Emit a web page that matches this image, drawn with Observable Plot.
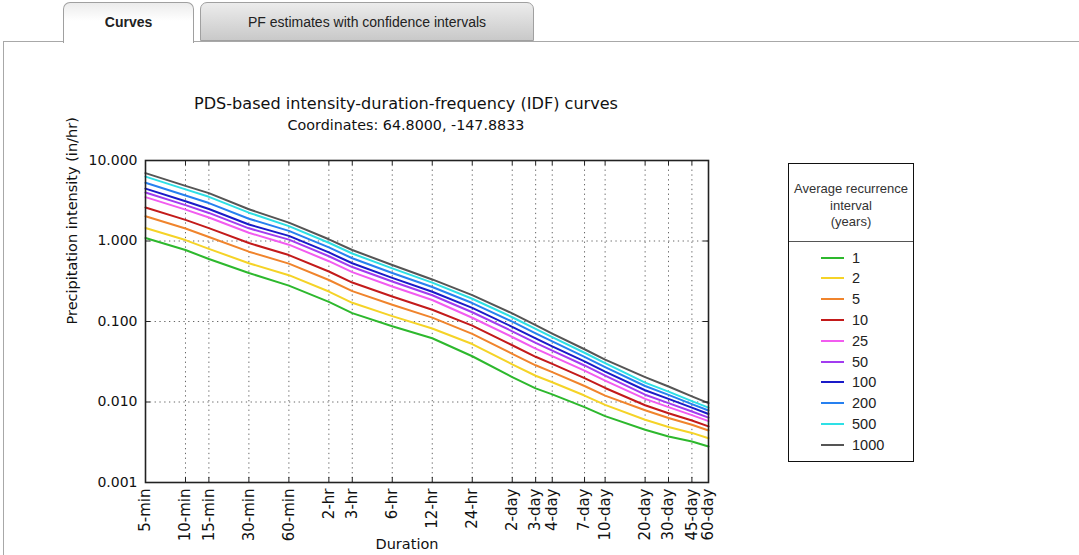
<!DOCTYPE html>
<html><head><meta charset="utf-8">
<script src="https://cdn.jsdelivr.net/npm/d3@7"></script>
<script src="https://cdn.jsdelivr.net/npm/@observablehq/plot@0.6"></script>
<style>
html,body{margin:0;padding:0;background:#fff;}
body{width:1079px;height:555px;overflow:hidden;position:relative;font-family:"Liberation Sans",Arial,sans-serif;}
#panel{position:absolute;left:3px;top:41px;width:1200px;height:600px;border-top:1px solid #a8a8a8;border-left:1px solid #a8a8a8;}
.tab{position:absolute;box-sizing:border-box;border:1px solid #a0a0a0;border-radius:7px 7px 0 0;text-align:center;font-size:14px;color:#222;}
#tab1{left:63px;top:2px;width:131px;height:41px;border-bottom:none;background:linear-gradient(#ececec,#ffffff 45%);font-weight:bold;line-height:39px;z-index:2;}
#tab2{left:200px;top:2px;width:334px;height:39px;background:linear-gradient(#ececec,#c9c9c9);line-height:38px;}
#chart{position:absolute;left:0;top:0;}
.ttl{position:absolute;left:106px;width:600px;text-align:center;font-family:"DejaVu Sans",sans-serif;color:#111;white-space:nowrap;}
#legend{position:absolute;left:788px;top:163px;width:124px;height:297px;border:1px solid #111;font-family:"Liberation Sans",Arial,sans-serif;color:#333;}
#lhead{height:78px;border-bottom:1px solid #555;text-align:center;font-size:13px;line-height:16.7px;box-sizing:border-box;}
.row{position:absolute;left:0;height:20px;width:124px;}
.sw{position:absolute;left:32px;top:9px;width:23px;height:2px;}
.lb{position:absolute;left:63px;top:0;font-size:14.5px;line-height:20px;color:#222;}
</style></head><body>
<div id="panel"></div>
<div class="tab" id="tab1">Curves</div>
<div class="tab" id="tab2">PF estimates with confidence intervals</div>
<div id="chart"></div>
<div class="ttl" id="title" style="top:94px;font-size:16.1px;">PDS-based intensity-duration-frequency (IDF) curves</div>
<div class="ttl" id="subtitle" style="top:117px;font-size:14.3px;">Coordinates: 64.8000, -147.8833</div>
<div id="legend"><div id="lhead"></div></div>
<script>
const durationLabels = ["5-min","10-min","15-min","30-min","60-min","2-hr","3-hr","6-hr","12-hr","24-hr","2-day","3-day","4-day","7-day","10-day","20-day","30-day","45-day","60-day"];
const durationMinutes = [5,10,15,30,60,120,180,360,720,1440,2880,4320,5760,10080,14400,28800,43200,64800,86400];
const yTicks = [0.001,0.01,0.1,1,10];
const intervals = ["1","2","5","10","25","50","100","200","500","1000"];
const colors = ["#2db82d","#f5d327","#f0842c","#c31a1a","#f25cf0","#a23cf0","#1a1ac8","#2680f0","#2ee0e6","#555555"];
const legendTitle = ["Average recurrence","interval","(years)"];

// Precipitation intensity (in/hr) per average recurrence interval, one value per duration
const ari1    = [1.09,0.773,0.597,0.400,0.279,0.175,0.127,0.0874,0.0619,0.0370,0.0204,0.01477,0.01245,0.00864,0.00668,0.00452,0.00373,0.00323,0.00280];
const ari2    = [1.453,1.027,0.799,0.530,0.376,0.2356,0.1708,0.1167,0.0818,0.0525,0.02938,0.0212,0.01762,0.01203,0.00921,0.00602,0.00490,0.00413,0.00354];
const ari5    = [2.03,1.429,1.122,0.737,0.524,0.328,0.2386,0.1612,0.1117,0.0701,0.03967,0.02857,0.02348,0.0158,0.01202,0.00789,0.00634,0.00521,0.00443];
const ari10   = [2.608,1.83,1.447,0.943,0.669,0.4176,0.3046,0.2042,0.1401,0.0887,0.0507,0.03646,0.02969,0.01976,0.01494,0.00911,0.00726,0.00588,0.00498];
const ari25   = [3.51,2.455,1.956,1.264,0.900,0.561,0.4106,0.2726,0.185,0.1114,0.0642,0.04613,0.03722,0.02449,0.01842,0.01092,0.00863,0.00687,0.00579];
const ari50   = [4.00,2.792,2.232,1.437,1.040,0.647,0.4745,0.3135,0.2117,0.1303,0.0756,0.0543,0.04351,0.02843,0.0213,0.01232,0.00967,0.00762,0.00639];
const ari100  = [4.47,3.117,2.498,1.603,1.158,0.721,0.5287,0.3482,0.2342,0.1474,0.0859,0.0616,0.04914,0.03192,0.02384,0.0140,0.01093,0.0085,0.0071];
const ari200  = [5.28,3.68,2.96,1.889,1.337,0.832,0.611,0.4006,0.2679,0.1695,0.0994,0.0712,0.05648,0.03643,0.02713,0.0158,0.01226,0.00942,0.00784];
const ari500  = [6.30,4.38,3.54,2.248,1.531,0.951,0.6995,0.4568,0.304,0.1916,0.1129,0.0808,0.06378,0.04091,0.03037,0.01742,0.01345,0.01024,0.0085];
const ari1000 = [6.97,4.84,3.93,2.48,1.69,1.05,0.773,0.503,0.333,0.213,0.126,0.090,0.0709,0.0452,0.0336,0.0204,0.0156,0.01175,0.0097];

const series = [ari1,ari2,ari5,ari10,ari25,ari50,ari100,ari200,ari500,ari1000];
const table = [];
series.forEach((vals,i)=>vals.forEach((v,j)=>table.push({ari:intervals[i], minutes:durationMinutes[j], value:v})));
const xTickTable = durationMinutes.map((m,i)=>({minutes:m, label:durationLabels[i]}));

const W=1079,H=555, mL=145, mR=371, mT=160, mB=73;
const fh = H-mT-mB, fw = W-mL-mR;
const chart = Plot.plot({
  width:W, height:H, marginLeft:mL, marginRight:mR, marginTop:mT, marginBottom:mB,
  style:{fontFamily:"DejaVu Sans, sans-serif", fontSize:"14px", color:"#111", background:"transparent", overflow:"visible"},
  x:{type:"log", domain:[5,86400], axis:null},
  y:{type:"log", domain:[0.001,10], axis:null},
  color:{domain:intervals, range:colors},
  marks:[
    Plot.gridX(durationMinutes,{stroke:"#666", strokeOpacity:1, strokeDasharray:"1.3,3.5"}),
    Plot.gridY(yTicks,{stroke:"#666", strokeOpacity:1, strokeDasharray:"1.3,3.5"}),
    Plot.line(table,{x:"minutes", y:"value", z:"ari", stroke:"ari", strokeWidth:2}),
    Plot.tickX(durationMinutes,{x:d=>d, insetTop:fh-5, stroke:"#222"}),
    Plot.tickX(durationMinutes,{x:d=>d, insetBottom:fh-5, stroke:"#222"}),
    Plot.tickY(yTicks,{y:d=>d, insetRight:fw-5, stroke:"#222"}),
    Plot.tickY(yTicks,{y:d=>d, insetLeft:fw-5, stroke:"#222"}),
    Plot.text(xTickTable,{x:"minutes", text:"label", frameAnchor:"bottom", dy:6, rotate:-90, textAnchor:"end", lineAnchor:"middle", fontSize:15, fill:"#111"}),
    Plot.text(yTicks,{y:d=>d, text:d3.format(".3f"), frameAnchor:"left", dx:-8, textAnchor:"end", lineAnchor:"middle", fontSize:14, fill:"#111"}),
    Plot.frame({stroke:"#222", strokeWidth:1.6}),
    Plot.text(["Duration"],{frameAnchor:"bottom", dy:66, dx:-20, fontSize:14.5, fill:"#111"}),
    Plot.text(["Precipitation intensity (in/hr)"],{frameAnchor:"left", rotate:-90, dx:-73, dy:3, fontSize:14.5, fill:"#111"})
  ]
});
document.getElementById("chart").appendChild(chart);

const lh = document.getElementById("lhead");
lh.style.paddingTop = "17px";
lh.innerHTML = legendTitle.map(t=>`<div>${t}</div>`).join("");
const lg = document.getElementById("legend");
intervals.forEach((name,i)=>{
  const r = document.createElement("div");
  r.className="row";
  r.style.top = (83.5 + i*20.8) + "px";
  r.innerHTML = `<div class="sw" style="background:${colors[i]}"></div><div class="lb">${name}</div>`;
  lg.appendChild(r);
});
</script>
</body></html>
